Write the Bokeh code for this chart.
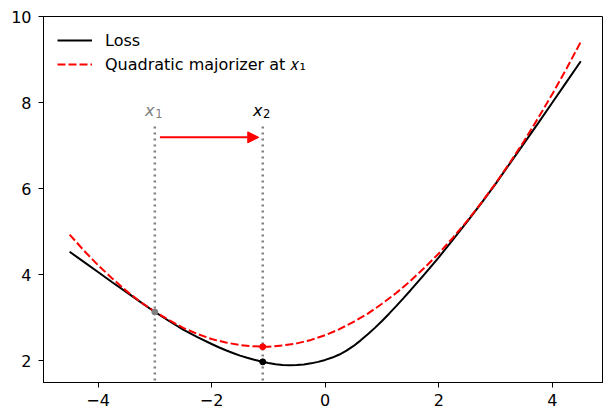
from bokeh.plotting import figure
from bokeh.models import Range1d, FixedTicker, Label, Arrow, NormalHead, Legend, LegendItem
from bokeh.embed import file_html
from bokeh.resources import INLINE

# ---- data ----
loss_x = [-4.5, -4.25, -4.0, -3.75, -3.5, -3.25, -3.0, -2.75, -2.5, -2.25, -2.0, -1.875,
          -1.75, -1.625, -1.5, -1.375, -1.25, -1.125, -1.0, -0.875, -0.75, -0.625, -0.5,
          -0.375, -0.25, -0.125, 0.0, 0.125, 0.25, 0.375, 0.5, 0.625, 0.75, 0.875, 1.0,
          1.125, 1.25, 1.375, 1.5, 1.75, 2.0, 2.25, 2.5, 2.75, 3.0, 3.25, 3.5, 3.75,
          4.0, 4.25, 4.5]
loss = [4.53, 4.295, 4.06, 3.82, 3.59, 3.36, 3.13, 2.92, 2.72, 2.545, 2.385, 2.31,
        2.24, 2.175, 2.115, 2.065, 2.02, 1.98, 1.945, 1.915, 1.895, 1.89, 1.895,
        1.91, 1.935, 1.97, 2.015, 2.07, 2.14, 2.23, 2.34, 2.47, 2.61, 2.76, 2.92,
        3.09, 3.265, 3.445, 3.63, 4.01, 4.40, 4.81, 5.23, 5.66, 6.11, 6.58, 7.05, 7.52,
        8.00, 8.48, 8.96]
maj_x = [-4.5, -4.25, -4.0, -3.75, -3.5, -3.25, -3.0, -2.75, -2.5, -2.25, -2.0, -1.75,
         -1.5, -1.25, -1.0, -0.75, -0.5, -0.25, 0.0, 0.25, 0.5, 0.75, 1.0, 1.25,
         1.5, 1.75, 2.0, 2.25, 2.5, 2.75, 3.0, 3.25, 3.5, 3.75, 4.0, 4.25, 4.5]
majorizer = [4.93, 4.56, 4.22, 3.91, 3.62, 3.36, 3.14, 2.94, 2.76, 2.62, 2.50, 2.42,
             2.36, 2.33, 2.32, 2.35, 2.40, 2.48, 2.59, 2.73, 2.90, 3.09, 3.32, 3.57,
             3.85, 4.16, 4.49, 4.86, 5.25, 5.67, 6.12, 6.60, 7.10, 7.64, 8.20, 8.79, 9.41]
x1, x2 = -3.0, -1.1
loss_x1 = 3.13
loss_x2 = 1.97
maj_x2 = 2.32
vline_top = 7.45
arrow_y = 7.19
arrow_start = -2.91
arrow_end = -1.17
label_y = 7.81
x_ticks = [-4, -2, 0, 2, 4]
x_tick_labels = ["\u22124", "\u22122", "0", "2", "4"]
y_ticks = [2, 4, 6, 8, 10]
y_tick_labels = ["2", "4", "6", "8", "10"]

FONT = "DejaVu Sans"

p = figure(width=603, height=408, output_backend="svg", toolbar_location=None,
           x_range=Range1d(-4.96, 4.90), y_range=Range1d(1.49, 10.0),
           min_border_left=43, min_border_right=0, min_border_top=16, min_border_bottom=24)
p.grid.visible = False
p.outline_line_color = "black"
p.outline_line_width = 1
p.outline_line_alpha = 1.0
p.background_fill_color = "white"
p.border_fill_color = "white"

for ax in (p.xaxis[0], p.yaxis[0]):
    ax.axis_line_color = "black"
    ax.axis_line_width = 1
    ax.major_tick_line_color = "black"
    ax.major_tick_in = 0
    ax.major_tick_out = 5
    ax.minor_tick_line_color = None
    ax.major_label_text_font = FONT
    ax.major_label_text_font_size = "16px"
    ax.major_label_text_color = "black"

p.xaxis[0].ticker = FixedTicker(ticks=x_ticks)
p.xaxis[0].major_label_overrides = {t: l for t, l in zip(x_ticks, x_tick_labels)}
p.xaxis[0].major_label_standoff = 6
p.yaxis[0].ticker = FixedTicker(ticks=y_ticks)
p.yaxis[0].major_label_overrides = {t: l for t, l in zip(y_ticks, y_tick_labels)}
p.yaxis[0].major_label_standoff = 7

# vertical dotted guides
p.segment(x0=[x1, x2], y0=[0, 0], x1=[x1, x2], y1=[vline_top, vline_top],
          line_color="gray", line_width=2.5, line_dash="2 4")

r_loss = p.line(loss_x, loss, line_color="black", line_width=2)
r_maj = p.line(maj_x, majorizer, line_color="red", line_width=2, line_dash="8 3")

p.scatter([x1], [loss_x1], size=6, color="gray")
p.scatter([x2], [loss_x2], size=6, color="black")
p.scatter([x2], [maj_x2], size=6, color="red")

p.add_layout(Arrow(end=NormalHead(size=11, fill_color="red", line_color="red"),
                   x_start=arrow_start, y_start=arrow_y, x_end=arrow_end, y_end=arrow_y,
                   line_color="red", line_width=2))

for xv, col, sub in ((x1, "gray", "1"), (x2, "black", "2")):
    p.add_layout(Label(x=xv, y=label_y, text="x", x_offset=-5, text_align="center",
                       text_baseline="alphabetic", text_font=FONT, text_font_style="italic",
                       text_font_size="16px", text_color=col))
    p.add_layout(Label(x=xv, y=label_y, text=sub, x_offset=4, y_offset=-3,
                       text_align="center", text_baseline="alphabetic", text_font=FONT,
                       text_font_size="11.5px", text_color=col))

legend = Legend(items=[LegendItem(label="Loss", renderers=[r_loss]),
                       LegendItem(label="Quadratic majorizer at \U0001D465\u2081", renderers=[r_maj])],
                location="top_left")
legend.margin = 4
legend.padding = 10
legend.spacing = 4
legend.glyph_width = 35
legend.glyph_height = 20
legend.label_height = 20
legend.label_standoff = 13
legend.label_text_font = FONT
legend.label_text_font_size = "16px"
legend.label_text_color = "black"
legend.border_line_alpha = 0
legend.background_fill_alpha = 0
p.add_layout(legend)

open("out.html", "w").write(file_html(p, INLINE))
